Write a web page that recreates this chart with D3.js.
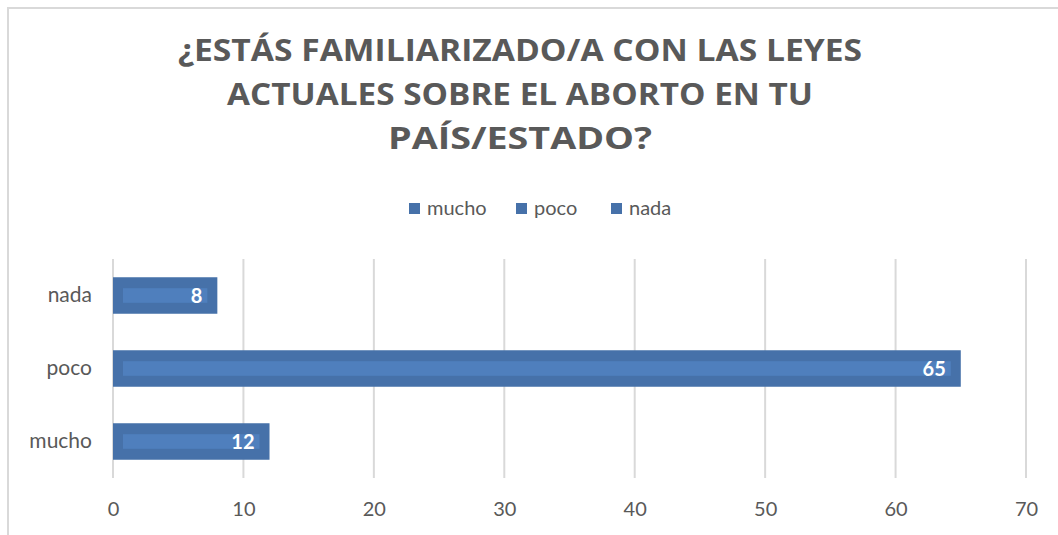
<!DOCTYPE html>
<html><head><meta charset="utf-8">
<script src="https://cdn.jsdelivr.net/npm/d3@7"></script>
<style>body{margin:0;background:#fff;}</style>
</head><body>
<svg id="c" width="1058" height="535"></svg>
<script>
const titleLines = ["¿ESTÁS FAMILIARIZADO/A CON LAS LEYES", "ACTUALES SOBRE EL ABORTO EN TU", "PAÍS/ESTADO?"];
const categories = ["nada", "poco", "mucho"];
const values = [8, 65, 12];
const legendItems = ["mucho", "poco", "nada"];
const xTicks = [0, 10, 20, 30, 40, 50, 60, 70];

const svg = d3.select("#c");
const gray = "#595959";
const barColor = "#4671A9";
const innerColor = "#4F7FBD";
const ff = 'Lato, "Open Sans", sans-serif';

// chart border
svg.append("rect").attr("x", 8).attr("y", 8).attr("width", 1100).attr("height", 600)
  .attr("fill", "none").attr("stroke", "#D9D9D9").attr("stroke-width", 2);

// title
const tW = [684, 586, 264];
const tY = [61, 105, 149];
titleLines.forEach((t, i) => {
  svg.append("text").attr("x", 520).attr("y", tY[i]).attr("text-anchor", "middle")
    .style("font-family", '"Open Sans", sans-serif')
    .attr("font-size", 31).attr("font-weight", "bold").attr("fill", gray)
    .attr("textLength", tW[i]).attr("lengthAdjust", "spacingAndGlyphs").text(t);
});

// legend
const legX = [409, 516, 611];
legendItems.forEach((l, i) => {
  svg.append("rect").attr("x", legX[i]).attr("y", 203).attr("width", 11).attr("height", 11).attr("fill", barColor);
  svg.append("text").attr("x", legX[i] + 18).attr("y", 215).style("font-family", ff)
    .attr("font-size", 20).attr("fill", gray).text(l);
});

const x = d3.scaleLinear().domain([0, 70]).range([113, 1026]);
const y = d3.scaleBand().domain(categories).range([259, 478]).paddingInner(0.5).paddingOuter(0.25);

// gridlines
svg.append("g").selectAll("line").data(xTicks).join("line")
  .attr("x1", d => x(d)).attr("x2", d => x(d)).attr("y1", 259).attr("y2", 478)
  .attr("stroke", "#D9D9D9").attr("stroke-width", 2);

// x axis labels
const xAxis = d3.axisBottom(x).tickValues(xTicks).tickSize(0).tickPadding(0);
const gx = svg.append("g").attr("transform", "translate(0,502)").call(xAxis);
gx.select(".domain").remove();
gx.selectAll("text").attr("font-size", 20).attr("fill", gray).style("font-family", ff);

// y labels
const yAxis = d3.axisLeft(y).tickSize(0).tickPadding(0);
const gy = svg.append("g").attr("transform", "translate(92,0)").call(yAxis);
gy.select(".domain").remove();
gy.selectAll("text").attr("font-size", 21).attr("fill", gray).style("font-family", ff);

// bars
const bars = svg.append("g").selectAll("g").data(categories.map((c, i) => ({c, v: values[i]}))).join("g");
bars.append("rect").attr("x", x(0)).attr("y", d => y(d.c)).attr("width", d => x(d.v) - x(0))
  .attr("height", y.bandwidth()).attr("fill", barColor);
bars.append("rect").attr("x", x(0) + 10).attr("y", d => y(d.c) + y.bandwidth() * 0.3)
  .attr("width", d => Math.max(0, x(d.v) - x(0) - 20)).attr("height", y.bandwidth() * 0.4)
  .attr("fill", innerColor);
bars.append("text").attr("x", d => x(d.v) - 15).attr("y", d => y(d.c) + y.bandwidth() / 2)
  .attr("dy", "0.36em").attr("text-anchor", "end").style("font-family", ff)
  .attr("font-size", 20).attr("font-weight", "bold")
  .attr("fill", "#fff").text(d => d.v);
</script>
</body></html>
